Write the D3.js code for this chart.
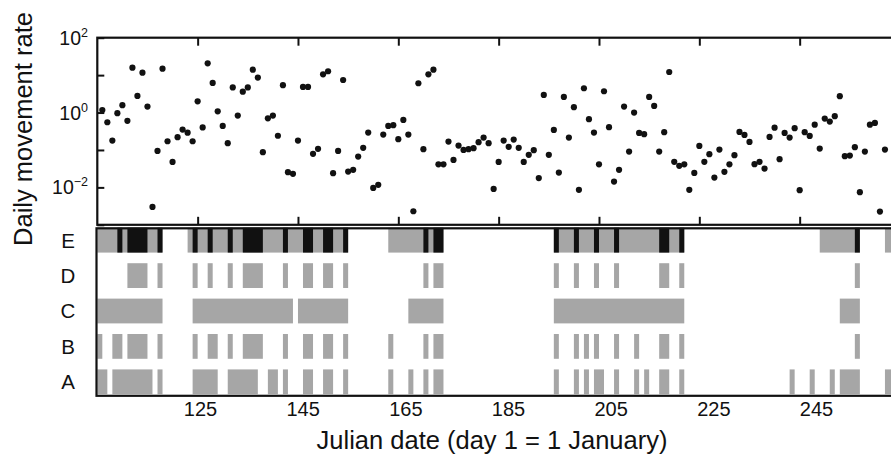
<!DOCTYPE html>
<html>
<head>
<meta charset="utf-8">
<script src="https://cdn.jsdelivr.net/npm/d3@7"></script>
<style>
  html, body { margin: 0; padding: 0; background: #fff; }
  svg { display: block; font-family: "Liberation Sans", Arial, Helvetica, sans-serif; }
</style>
</head>
<body>
<svg id="chart" width="891" height="456"></svg>
<script>
// Daily movement rate: [Julian day, rate]
const movementRate = [
  [106,1.17],[107,0.55],[108,0.178],[109,0.96],[110,1.57],[111,0.60],[112,15.8],[113,2.78],
  [114,11.6],[115,1.44],[116,0.0030],[117,0.094],[118,14.9],[119,0.171],[120,0.048],[121,0.22],
  [122,0.35],[123,0.29],[124,0.171],[125,2.0],[126,0.40],[127,20.7],[128,6.2],[129,1.08],
  [130,0.44],[131,0.152],[132,4.7],[133,0.83],[134,3.6],[135,4.7],[136,14.0],[137,8.6],
  [138,0.087],[139,0.70],[140,0.83],[141,0.24],[142,5.4],[143,0.0255],[144,0.023],[145,0.178],
  [146,4.83],[147,4.83],[148,0.079],[149,0.107],[150,10.5],[151,12.7],[152,0.024],[153,0.094],
  [154,7.4],[155,0.0265],[156,0.0294],[157,0.0665],[158,0.114],[159,0.291],[160,0.0097],[161,0.0117],
  [162,0.258],[163,0.44],[164,0.459],[165,0.194],[166,0.635],[167,0.258],[168,0.0023],[169,6.06],
  [170,0.105],[171,10.5],[172,14.0],[173,0.0412],[174,0.0412],[175,0.1675],[176,0.0543],[177,0.131],
  [178,0.1005],[179,0.105],[180,0.1117],[181,0.161],[182,0.214],[183,0.152],[184,0.0091],[185,0.048],
  [186,0.178],[187,0.121],[188,0.189],[189,0.114],[190,0.048],[191,0.074],[192,0.0986],[193,0.0177],
  [194,2.95],[195,0.074],[196,0.344],[197,0.0249],[198,2.61],[199,0.214],[200,1.39],[201,0.0086],
  [202,4.46],[203,0.663],[204,0.291],[205,0.0412],[206,3.71],[207,0.406],[208,0.0143],[209,0.0294],
  [210,1.44],[211,0.0905],[212,0.995],[213,0.286],[214,0.264],[215,2.61],[216,1.50],[217,0.0905],
  [218,0.2985],[219,12.1],[220,0.0481],[221,0.0376],[222,0.0412],[223,0.0086],[224,0.0244],[225,0.1285],
  [226,0.0481],[227,0.0771],[228,0.0183],[229,0.1023],[230,0.026],[231,0.0412],[232,0.0726],[233,0.304],
  [234,0.253],[235,0.164],[236,0.0417],[237,0.0481],[238,0.0318],[239,0.2234],[240,0.395],[241,0.0568],
  [242,0.286],[243,0.214],[244,0.381],[245,0.00844],[246,0.2985],[247,0.2377],[248,0.475],[249,0.1089],
  [250,0.689],[251,0.573],[252,0.798],[253,2.73],[254,0.0682],[255,0.0708],[256,0.1186],[257,0.00746],
  [258,0.0905],[259,0.475],[260,0.528],[261,0.00226],[262,0.1023]
];

// Axis ticks
const rateTicks = [1e2, 1e1, 1e0, 1e-1, 1e-2, 1e-3];
const rateLabelExponents = [[1e2, "2"], [1e0, "0"], [1e-2, "\u22122"]];
const dayTicks = [125, 145, 165, 185, 205, 225, 245];

// Activity rows: runs of days [first, last], inclusive
const rowNames = ["E", "D", "C", "B", "A"];
const rowEGray = [[105,117],[123,154],[163,173],[196,221],[249,256],[262,265]];
const rowEBlack = [[109,109],[111,114],[117,117],[124,124],[127,127],[131,131],[134,137],[142,142],
  [146,147],[150,151],[154,154],[170,170],[172,173],[196,196],[200,200],[204,204],[208,208],
  [217,218],[221,221],[256,256]];
const rowD = [[111,114],[117,117],[124,124],[127,127],[131,131],[134,137],[142,142],[146,147],
  [150,151],[154,154],[170,170],[172,173],[196,196],[200,200],[204,204],[208,208],[217,218],
  [221,221],[256,256]];
const rowC = [[105,117],[124,143],[145,154],[167,173],[196,221],[253,256]];
const rowB = [[105,105],[108,109],[111,114],[117,117],[124,124],[127,128],[131,131],[134,137],
  [142,142],[146,147],[150,151],[154,154],[163,163],[170,170],[172,173],[196,196],[200,200],
  [202,202],[204,204],[208,208],[212,212],[217,218],[221,221],[256,256]];
const rowA = [[105,106],[108,115],[117,117],[124,128],[131,136],[139,140],[142,142],[146,147],
  [150,151],[154,154],[163,163],[167,167],[170,170],[172,173],[196,196],[200,200],[202,202],
  [204,205],[208,208],[212,212],[214,214],[217,218],[221,221],[243,243],[247,247],[251,251],
  [253,256],[262,265]];

const svg = d3.select("#chart");
const INK = "#111";
const GRAY = "#a6a6a6";

// Scales
const x = d3.scaleLinear().domain([105, 265]).range([97.3, 900]);
const xLabel = d3.scaleLinear().domain([125, 245]).range([200, 816]);
const y = d3.scaleLog().domain([1e-3, 1e2]).range([224.8, 37.7]);
const row = d3.scaleBand().domain(rowNames).range([222.5, 399.5]).paddingInner(0.3).paddingOuter(0.15);

const topPanel = { top: 37.7, bottom: 224.8 };
const lowPanel = { top: 228.3, bottom: 395.8 };

// Activity bars
const barLayers = [
  { name: "E", runs: rowEGray, fill: GRAY },
  { name: "E", runs: rowEBlack, fill: INK },
  { name: "D", runs: rowD, fill: GRAY },
  { name: "C", runs: rowC, fill: GRAY },
  { name: "B", runs: rowB, fill: GRAY },
  { name: "A", runs: rowA, fill: GRAY }
];
const bars = svg.append("g").attr("class", "bars");
barLayers.forEach(layer => {
  bars.append("g")
    .selectAll("rect")
    .data(layer.runs)
    .join("rect")
    .attr("x", d => x(d[0]))
    .attr("width", d => x(d[1] + 1) - x(d[0]))
    .attr("y", row(layer.name))
    .attr("height", row.bandwidth())
    .attr("fill", layer.fill);
});

// Panel frames
svg.append("rect")
  .attr("x", x(105)).attr("y", topPanel.top)
  .attr("width", x(265) - x(105)).attr("height", topPanel.bottom - topPanel.top)
  .attr("fill", "none").attr("stroke", INK).attr("stroke-width", 2.2);
svg.append("rect")
  .attr("x", x(105) - 0.8).attr("y", lowPanel.top)
  .attr("width", x(265) - x(105)).attr("height", lowPanel.bottom - lowPanel.top)
  .attr("fill", "none").attr("stroke", INK).attr("stroke-width", 2.2);

// Inward ticks on the rate panel
function styleTicks(g) {
  g.select(".domain").remove();
  g.selectAll(".tick line").attr("stroke", INK).attr("stroke-width", 2);
  g.selectAll(".tick text").remove();
}
svg.append("g")
  .attr("transform", `translate(0,${topPanel.top})`)
  .call(d3.axisTop(x).tickValues(dayTicks).tickSize(-8).tickFormat(""))
  .call(styleTicks);
svg.append("g")
  .attr("transform", `translate(0,${topPanel.bottom})`)
  .call(d3.axisBottom(x).tickValues(dayTicks).tickSize(-8).tickFormat(""))
  .call(styleTicks);
svg.append("g")
  .attr("transform", `translate(${x(105)},0)`)
  .call(d3.axisLeft(y).tickValues(rateTicks).tickSize(-7).tickFormat(""))
  .call(styleTicks);

// Power-of-ten labels
const powLabels = svg.append("g").attr("class", "rate-labels")
  .selectAll("text")
  .data(rateLabelExponents)
  .join("text")
  .attr("x", 88)
  .attr("y", d => y(d[0]) + 7)
  .attr("text-anchor", "end")
  .attr("font-size", 19.5)
  .attr("fill", INK);
powLabels.append("tspan").text("10");
powLabels.append("tspan")
  .attr("dy", -8)
  .attr("font-size", 12.5)
  .text(d => d[1]);

// Movement-rate points
svg.append("g").attr("class", "points")
  .selectAll("circle")
  .data(movementRate)
  .join("circle")
  .attr("cx", d => x(d[0]))
  .attr("cy", d => y(d[1]))
  .attr("r", 3.1)
  .attr("fill", INK);

// Row letters
svg.append("g").attr("class", "row-labels")
  .selectAll("text")
  .data(rowNames)
  .join("text")
  .attr("x", 68)
  .attr("y", d => row(d) + row.bandwidth() / 2 + 7.3)
  .attr("text-anchor", "middle")
  .attr("font-size", 20.5)
  .attr("fill", INK)
  .text(d => d);

// Day labels under the activity panel
svg.append("g")
  .attr("transform", `translate(0,${lowPanel.bottom})`)
  .call(d3.axisBottom(xLabel).tickValues(dayTicks).tickSize(0).tickPadding(6).tickFormat(d3.format("d")))
  .call(g => g.select(".domain").remove())
  .call(g => g.selectAll("text")
    .attr("font-family", "'Liberation Sans', Arial, Helvetica, sans-serif")
    .attr("font-size", 20)
    .attr("fill", INK));

// Axis titles
svg.append("text")
  .attr("x", 492)
  .attr("y", 449)
  .attr("text-anchor", "middle")
  .attr("font-size", 25.5)
  .attr("fill", INK)
  .text("Julian date (day 1 = 1 January)");
svg.append("text")
  .attr("transform", "translate(32,129) rotate(-90)")
  .attr("text-anchor", "middle")
  .attr("font-size", 25.5)
  .attr("fill", INK)
  .text("Daily movement rate");
</script>
</body>
</html>
